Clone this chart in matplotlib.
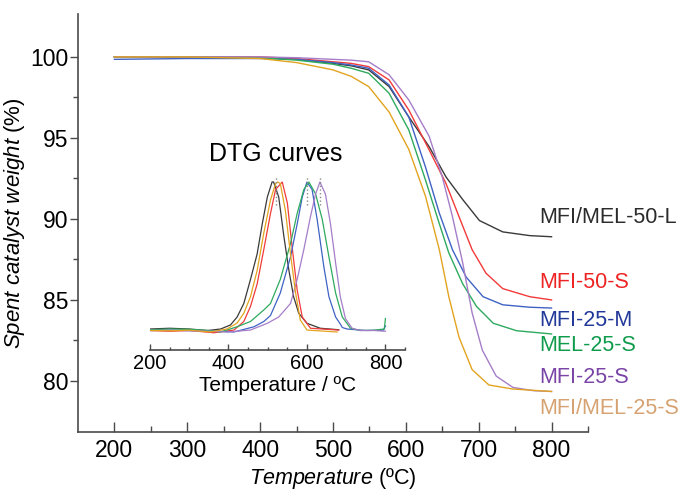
import matplotlib
matplotlib.use('Agg')
import matplotlib.pyplot as plt
from matplotlib.ticker import MultipleLocator, FixedLocator


plt.rcParams['font.family'] = ['Liberation Sans', 'DejaVu Sans']
plt.rcParams['mathtext.fontset'] = 'custom'
plt.rcParams['mathtext.rm'] = 'Liberation Sans'
plt.rcParams['mathtext.it'] = 'Liberation Sans:italic'

# ---- TGA curves (temperature in C, weight in %) ----
names = ['MFI/MEL-50-L', 'MFI-50-S', 'MFI-25-M', 'MEL-25-S', 'MFI-25-S', 'MFI/MEL-25-S']
line_colors = ['#3a3a3a', '#f23a3a', '#3f63c4', '#2eaa5e', '#a57dc8', '#e2a420']
text_colors = ['#2b2b2b', '#ee2424', '#23399a', '#0e9c4c', '#7a45a6', '#d7a272']
label_y = [90.1, 86.1, 83.75, 82.2, 80.2, 78.3]

T_black = [200, 300, 400, 450, 500, 525, 549, 577, 604, 632, 655, 678, 701, 733, 770, 800]
w_black = [100.0, 100.0, 99.95, 99.85, 99.6, 99.45, 99.2, 98.17, 96.3, 94.46, 92.6, 91.2,
           89.9, 89.2, 88.97, 88.9]

T_red = [200, 300, 400, 450, 500, 525, 549, 577, 604, 632, 655, 673, 691, 710, 733, 770, 800]
w_red = [100.0, 100.0, 100.0, 99.9, 99.7, 99.6, 99.4, 98.58, 96.73, 94.26, 92.2, 90.14,
         88.1, 86.65, 85.7, 85.2, 85.0]

T_blue = [200, 300, 400, 450, 500, 525, 549, 577, 604, 627, 646, 664, 683, 706, 733, 770, 800]
w_blue = [99.85, 99.9, 99.9, 99.85, 99.65, 99.5, 99.3, 98.27, 96.3, 93.2, 90.35, 88.1,
          86.4, 85.2, 84.7, 84.55, 84.5]

T_green = [200, 300, 400, 450, 500, 525, 549, 577, 604, 627, 646, 659, 678, 697, 720, 752, 800]
w_green = [100.0, 100.0, 99.95, 99.8, 99.55, 99.3, 98.99, 97.76, 95.5, 92.4, 89.7, 87.9,
           86.0, 84.6, 83.56, 83.1, 82.9]

T_purple = [200, 300, 400, 450, 500, 525, 549, 577, 604, 632, 650, 664, 678, 691, 705, 724,
            747, 775, 800]
w_purple = [100.0, 100.0, 100.0, 99.95, 99.85, 99.8, 99.7, 98.9, 97.35, 95.1, 92.6, 90.14,
            87.3, 84.2, 81.9, 80.3, 79.6, 79.4, 79.35]

T_orange = [200, 300, 400, 450, 500, 525, 549, 577, 604, 627, 646, 659, 673, 691, 714, 747, 800]
w_orange = [100.0, 100.0, 99.9, 99.65, 99.2, 98.8, 98.17, 96.6, 94.3, 91.4, 88.1, 85.2,
            82.7, 80.7, 79.75, 79.5, 79.35]

tga_T = [T_black, T_red, T_blue, T_green, T_purple, T_orange]
tga_w = [w_black, w_red, w_blue, w_green, w_purple, w_orange]

# ---- DTG curves (normalised) ----
dT_black = [200, 250, 300, 347, 380, 405, 422, 439, 456, 473, 486, 499, 511, 515,
            528, 541, 554, 566, 579, 600, 634, 681]
dI_black = [0.02, 0.025, 0.02, 0.01, 0.02, 0.047, 0.10, 0.19, 0.35, 0.52, 0.72, 0.90, 1.0, 1.0,
            0.90, 0.64, 0.41, 0.235, 0.125, 0.058, 0.025, 0.015]

dT_red = [200, 250, 300, 363, 414, 439, 456, 473, 490, 507, 520, 537,
          550, 562, 575, 588, 609, 681]
dI_red = [0.01, 0.005, 0.01, -0.005, 0.013, 0.07, 0.17, 0.32, 0.55, 0.79, 0.95, 1.0,
          0.86, 0.57, 0.28, 0.10, 0.025, 0.013]

dT_blue = [200, 250, 300, 350, 414, 465, 490, 507, 532, 558, 575, 588, 600,
           613, 626, 643, 656, 673, 685, 690, 702, 750, 795, 800]
dI_blue = [0.01, 0.012, 0.01, 0.008, 0.0, 0.035, 0.07, 0.11, 0.26, 0.50, 0.72, 0.90, 1.0,
           0.95, 0.75, 0.435, 0.235, 0.10, 0.053, 0.03, 0.02, 0.01, 0.012, 0.04]

dT_green = [200, 250, 300, 350, 380, 422, 456, 490, 507, 532, 558, 575, 592, 605,
            622, 639, 656, 673, 690, 711, 736, 770, 797, 800]
dI_green = [0.015, 0.02, 0.018, 0.01, 0.0, 0.035, 0.07, 0.147, 0.19, 0.35, 0.59, 0.79, 0.95, 1.0,
            0.92, 0.75, 0.50, 0.26, 0.10, 0.025, 0.01, 0.012, 0.02, 0.09]

dT_purple = [200, 250, 300, 350, 397, 456, 499, 528, 558, 575, 592, 609, 622, 633,
             647, 660, 673, 685, 698, 715, 736, 770, 800]
dI_purple = [0.01, 0.012, 0.008, 0.005, 0.0, 0.013, 0.058, 0.10, 0.19, 0.35, 0.55, 0.77, 0.92, 1.0,
             0.92, 0.72, 0.46, 0.235, 0.09, 0.025, 0.01, 0.01, 0.005]

dT_orange = [200, 250, 300, 354, 396, 422, 439, 456, 473, 490, 507, 520, 525,
             532, 545, 558, 571, 583, 600, 677]
dI_orange = [0.01, 0.008, 0.012, 0.0, 0.02, 0.06, 0.125, 0.235, 0.41, 0.66, 0.88, 0.99, 1.0,
             0.99, 0.81, 0.52, 0.26, 0.08, 0.013, 0.0]

dtg_T = [dT_black, dT_red, dT_blue, dT_green, dT_purple, dT_orange]
dtg_I = [dI_black, dI_red, dI_blue, dI_green, dI_purple, dI_orange]
dtg_peaks = [520, 599, 632]

spine_color = '#4a4a4a'


def plot_main(fig):
    ax = fig.add_axes([0.1145, 0.1343, 0.7489, 0.8377])
    for T, w, c in zip(tga_T, tga_w, line_colors):
        ax.plot(T, w, color=c, linewidth=1.0)

    for name, y, c in zip(names, label_y, text_colors):
        ax.text(783, y, name, color=c, fontsize=15.5, ha='left', va='center',
                clip_on=False)

    ax.set_xlim(150, 850)
    ax.set_ylim(76.85, 102.65)
    ax.xaxis.set_major_locator(FixedLocator([200, 300, 400, 500, 600, 700, 800]))
    ax.xaxis.set_minor_locator(FixedLocator([250, 350, 450, 550, 650, 750, 850]))
    ax.yaxis.set_major_locator(MultipleLocator(5))
    ax.yaxis.set_minor_locator(FixedLocator([82.5, 87.5, 92.5, 97.5]))

    for s in ['top', 'right']:
        ax.spines[s].set_visible(False)
    for s in ['left', 'bottom']:
        ax.spines[s].set_color(spine_color)
        ax.spines[s].set_linewidth(1.2)

    ax.tick_params(axis='x', which='major', direction='in', length=7, width=1.0,
                   color=spine_color, labelsize=16.5, pad=5)
    ax.tick_params(axis='x', which='minor', direction='in', length=4, width=1.0,
                   color=spine_color)
    ax.tick_params(axis='y', which='major', direction='out', length=6, width=1.0,
                   color=spine_color, labelsize=16.5, pad=1)
    ax.tick_params(axis='y', which='minor', direction='out', length=3.5, width=1.0,
                   color=spine_color)

    ax.set_xlabel(r'$\mathit{Temperature}$ (ºC)', fontsize=15.5, labelpad=3)
    ax.set_ylabel(r'$\mathit{Spent\ catalyst\ weight}$ (%)', fontsize=16, labelpad=2)
    return ax


def plot_inset(fig):
    ax = fig.add_axes([0.2203, 0.2986, 0.3745, 0.3607])
    ax.patch.set_alpha(0)
    for T, I, c in zip(dtg_T, dtg_I, line_colors):
        ax.plot(T, I, color=c, linewidth=0.9)

    ax.vlines(dtg_peaks, 0.85, 1.04, colors='#8a8a8a', linestyles=':', linewidth=1.0)

    ax.set_xlim(200, 850)
    ax.set_ylim(-0.12, 1.08)
    ax.xaxis.set_major_locator(FixedLocator([200, 400, 600, 800]))
    ax.xaxis.set_minor_locator(MultipleLocator(50))
    ax.set_yticks([])

    for s in ['top', 'right', 'left']:
        ax.spines[s].set_visible(False)
    ax.spines['bottom'].set_color(spine_color)
    ax.spines['bottom'].set_linewidth(1.2)

    ax.tick_params(axis='x', which='major', direction='in', length=4, width=1.0,
                   color=spine_color, labelsize=14.5, pad=3)
    ax.tick_params(axis='x', which='minor', direction='in', length=2.5, width=1.0,
                   color=spine_color)

    ax.set_xlabel('Temperature / ºC', fontsize=15, labelpad=2)
    ax.text(520, 1.19, 'DTG curves', fontsize=18, ha='center', va='center',
            clip_on=False)
    return ax


def main():
    fig = plt.figure(figsize=(6.81, 4.99), dpi=100)
    plot_main(fig)
    plot_inset(fig)
    plt.savefig('out.png', dpi=100)


if __name__ == "__main__":
    main()
